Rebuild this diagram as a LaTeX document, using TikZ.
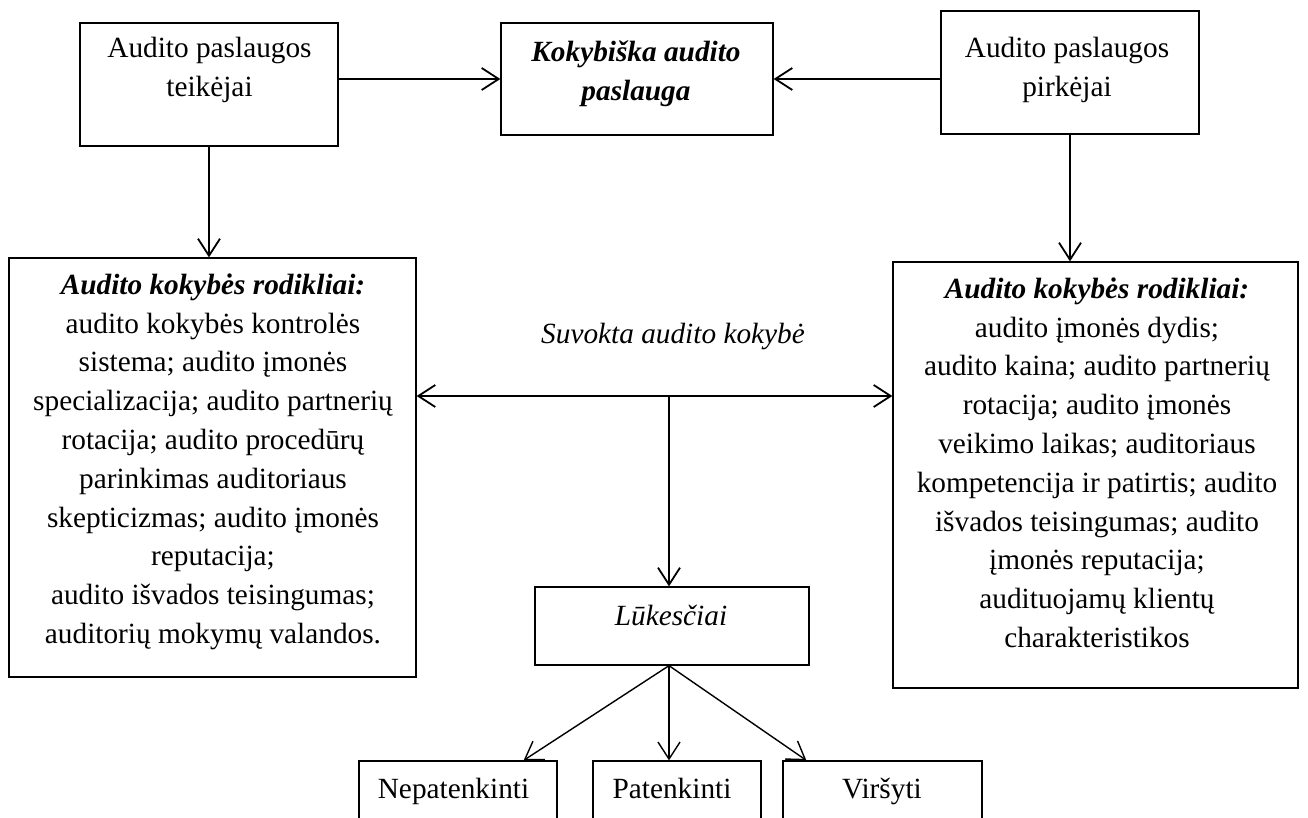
\documentclass[tikz,border=0pt]{standalone}
\usepackage{fontspec}
\setmainfont{Liberation Serif}
\usetikzlibrary{arrows.meta,calc}
\begin{document}
\begin{tikzpicture}[x=1pt,y=-1pt,
  box/.style={draw=black, line width=1.3pt, rectangle, inner sep=0pt},
  txt/.style={inner sep=0pt, align=center, font=\fontsize{29.3}{38.8}\selectfont},
  arr/.style={line width=1.8pt, -{Straight Barb[length=17pt,width=22pt,line width=1.8pt]}},
  thinarr/.style={line width=1.4pt, -{Straight Barb[length=17pt,width=22pt,line width=1.4pt]}},
]
\useasboundingbox (0,0) rectangle (1308,818);
\clip (0,0) rectangle (1308,818);

% boxes
\node[box, minimum width=258pt, minimum height=123pt] (b1) at (209,84.5) {};
\node[box, minimum width=272pt, minimum height=112pt] (b2) at (637,79) {};
\node[box, minimum width=258pt, minimum height=123pt] (b3) at (1070,72.5) {};
\node[box, minimum width=407pt, minimum height=419pt] (lb) at (212.5,467.5) {};
\node[box, minimum width=405pt, minimum height=426pt] (rb) at (1095.5,475) {};
\node[box, minimum width=274pt, minimum height=78pt] (lk) at (672,626) {};
\node[box, minimum width=198pt, minimum height=79pt] (n1) at (458,800.5) {};
\node[box, minimum width=168pt, minimum height=79pt] (n2) at (677,800.5) {};
\node[box, minimum width=199pt, minimum height=79pt] (n3) at (882.5,800.5) {};

% texts
\node[txt, anchor=north] (b1t) at (209.5,37) {Audito paslaugos\\teikėjai};
\node[txt, anchor=north] (b2t) at (636,41) {\textbf{\textit{Kokybiška audito}}\\\textbf{\textit{paslauga}}};
\node[txt, anchor=north] (b3t) at (1067,37) {Audito paslaugos\\pirkėjai};
\node[txt, anchor=north] (lbt) at (213,273.5) {\textbf{\textit{Audito kokybės rodikliai:}}\\
audito kokybės kontrolės\\
sistema; audito įmonės\\
specializacija; audito partnerių\\
rotacija; audito procedūrų\\
parinkimas auditoriaus\\
skepticizmas; audito įmonės\\
reputacija;\\
audito išvados teisingumas;\\
auditorių mokymų valandos.};
\node[txt, anchor=north] (rbt) at (1097,277.5) {\textbf{\textit{Audito kokybės rodikliai:}}\\
audito įmonės dydis;\\
audito kaina; audito partnerių\\
rotacija; audito įmonės\\
veikimo laikas; auditoriaus\\
kompetencija ir patirtis; audito\\
išvados teisingumas; audito\\
įmonės reputacija;\\
audituojamų klientų\\
charakteristikos};
\node[txt, anchor=base] (sv) at (673,343) {\textit{Suvokta audito kokybė}};
\node[txt, anchor=base] (lkt) at (671,625) {\textit{Lūkesčiai}};
\node[txt, anchor=base] (n1t) at (453.5,798) {Nepatenkinti};
\node[txt, anchor=base] (n2t) at (672,798) {Patenkinti};
\node[txt, anchor=base] (n3t) at (882,798) {Viršyti};

% connectors
\draw[arr] (b1.east |- b2.west) -- (b2.west);
\draw[arr] (b3.west |- b2.east) -- (b2.east);
\draw[arr] (b1.south) -- (b1.south |- lb.north);
\draw[arr] (b3.south) -- (b3.south |- rb.north);
\coordinate (J) at (669,396);
\draw[arr] (J) -- (J -| lb.east);
\draw[arr] (J) -- (J -| rb.west);
\draw[arr] (J) -- (J |- lk.north);
\coordinate (O) at (J |- lk.south);
\draw[thinarr] (O) -- ($(n1.north east)+(-34,0)$);
\draw[thinarr] (O) -- (O |- n2.north);
\draw[thinarr] (O) -- ($(n3.north west)+(24,0)$);
\end{tikzpicture}
\end{document}
